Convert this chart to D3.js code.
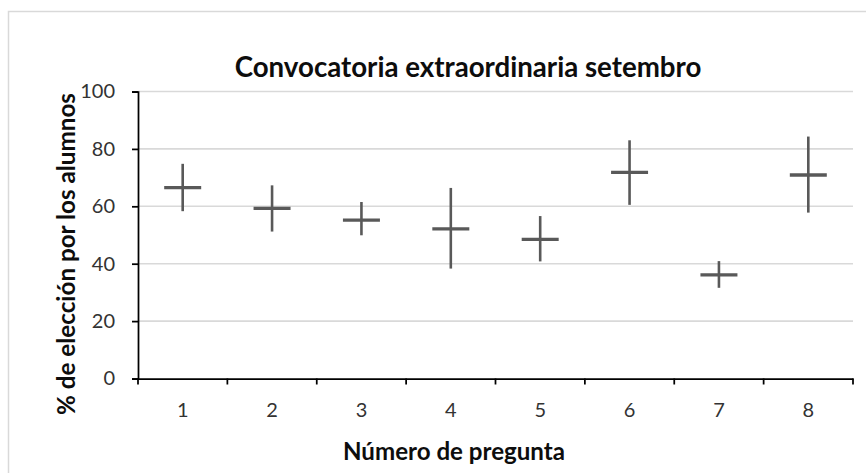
<!DOCTYPE html>
<html>
<head>
<meta charset="utf-8">
<script src="https://cdn.jsdelivr.net/npm/d3@7"></script>
<style>
    body { margin: 0; background: #fff; }
    text { font-family: Lato, "Open Sans", sans-serif; }
</style>
</head>
<body>
<div id="chart"></div>
<script>
// Chart values
const preguntas = ["1", "2", "3", "4", "5", "6", "7", "8"];
const valorMedio = [66.5, 59.3, 55.2, 52.1, 48.5, 71.8, 36.1, 70.9];
const valorAlto = [74.8, 67.3, 61.5, 66.4, 56.6, 83.0, 40.9, 84.3];
const valorBajo = [58.3, 51.2, 49.9, 38.3, 40.8, 60.5, 31.6, 57.8];
const yTicks = [0, 20, 40, 60, 80, 100];

const titulo = "Convocatoria extraordinaria setembro";
const tituloX = "Número de pregunta";
const tituloY = "% de elección por los alumnos";

const data = preguntas.map((p, i) => ({p: p, mid: valorMedio[i], hi: valorAlto[i], lo: valorBajo[i]}));

const width = 866, height = 473;
const plot = {left: 138, right: 853, top: 91.5, bottom: 378.5};

const svg = d3.select("#chart")
    .append("svg")
    .attr("width", width)
    .attr("height", height);

// Chart area border (only top and left edges fall inside the picture)
svg.append("rect")
    .attr("x", 8.5)
    .attr("y", 11.5)
    .attr("width", 900)
    .attr("height", 500)
    .attr("fill", "#fff")
    .attr("stroke", "#d9d9d9")
    .attr("stroke-width", 1.5);

const x = d3.scaleBand()
    .domain(preguntas)
    .range([plot.left, plot.right])
    .paddingInner(0)
    .paddingOuter(0);

const y = d3.scaleLinear()
    .domain([0, 100])
    .range([plot.bottom, plot.top]);

// Gridlines
svg.append("g")
    .selectAll("line")
    .data(yTicks.filter(d => d > 0))
    .join("line")
    .attr("x1", plot.left)
    .attr("x2", plot.right)
    .attr("y1", d => y(d))
    .attr("y2", d => y(d))
    .attr("stroke", "#d9d9d9")
    .attr("stroke-width", 1.6);

// Y axis
const yAxis = svg.append("g")
    .attr("transform", `translate(${plot.left},0)`)
    .call(d3.axisLeft(y).tickValues(yTicks).tickSize(6).tickPadding(17));
yAxis.select(".domain").attr("stroke", "#000").attr("stroke-width", 1.75);
yAxis.selectAll(".tick line").attr("stroke", "#000").attr("stroke-width", 1.75);
yAxis.selectAll(".tick text")
    .attr("fill", "#333")
    .style("font-size", "20px")
    .style("font-family", "Lato, sans-serif");

// X axis: ticks on the category boundaries, labels in the middle
const xAxis = svg.append("g")
    .attr("transform", `translate(0,${plot.bottom})`)
    .call(d3.axisBottom(x).tickSize(0).tickPadding(24));
xAxis.select(".domain").attr("stroke", "#000").attr("stroke-width", 1.75);
xAxis.selectAll(".tick text")
    .attr("fill", "#333")
    .style("font-size", "20px")
    .style("font-family", "Lato, sans-serif");

const bounds = preguntas.map(p => x(p)).concat([x(preguntas[preguntas.length - 1]) + x.bandwidth()]);
svg.append("g")
    .selectAll("line")
    .data(bounds)
    .join("line")
    .attr("x1", d => d)
    .attr("x2", d => d)
    .attr("y1", plot.bottom)
    .attr("y2", plot.bottom + 6)
    .attr("stroke", "#000")
    .attr("stroke-width", 1.75);

// High-low lines
const cx = d => x(d.p) + x.bandwidth() / 2;
const marks = svg.append("g");
marks.selectAll("line.hl")
    .data(data)
    .join("line")
    .attr("class", "hl")
    .attr("x1", cx)
    .attr("x2", cx)
    .attr("y1", d => y(d.hi))
    .attr("y2", d => y(d.lo))
    .attr("stroke", "#595959")
    .attr("stroke-width", 2.6);

// Dash markers at the middle value
marks.selectAll("line.dash")
    .data(data)
    .join("line")
    .attr("class", "dash")
    .attr("x1", d => cx(d) - 18.5)
    .attr("x2", d => cx(d) + 18.5)
    .attr("y1", d => y(d.mid))
    .attr("y2", d => y(d.mid))
    .attr("stroke", "#595959")
    .attr("stroke-width", 3.3);

// Titles, sized so their length matches the original (Calibri is not installed)
function fitText(sel, target) {
    const size = parseFloat(sel.style("font-size"));
    const len = sel.node().getComputedTextLength();
    sel.style("font-size", (size * target / len).toFixed(2) + "px");
}

const t1 = svg.append("text")
    .attr("x", 468)
    .attr("y", 77)
    .attr("text-anchor", "middle")
    .attr("fill", "#0d0d0d")
    .style("font-size", "24px")
    .style("font-weight", "bold")
    .text(titulo);
fitText(t1, 467);

const t2 = svg.append("text")
    .attr("x", 454)
    .attr("y", 460)
    .attr("text-anchor", "middle")
    .attr("fill", "#0d0d0d")
    .style("font-size", "22px")
    .style("font-weight", "bold")
    .text(tituloX);
fitText(t2, 222);

const t3 = svg.append("text")
    .attr("transform", "rotate(-90)")
    .attr("x", -254)
    .attr("y", 75)
    .attr("text-anchor", "middle")
    .attr("fill", "#0d0d0d")
    .style("font-size", "22px")
    .style("font-weight", "bold")
    .text(tituloY);
fitText(t3, 322);
</script>
</body>
</html>
